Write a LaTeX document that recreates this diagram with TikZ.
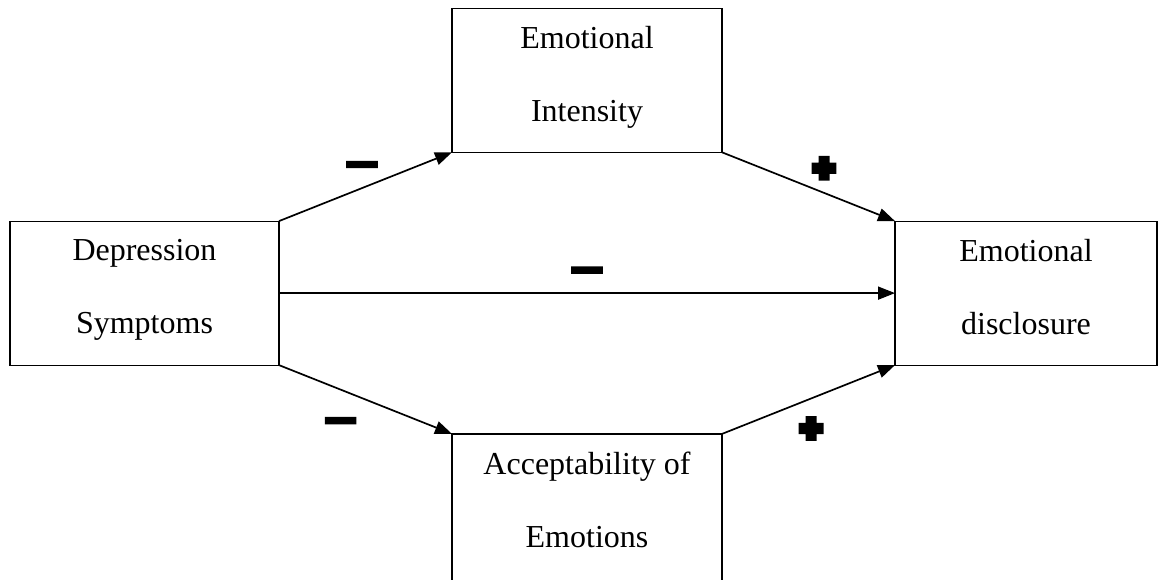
\documentclass[tikz,border=0pt]{standalone}
\usepackage{fontspec}
\setmainfont{Liberation Serif}
\newfontface\negface[FakeBold=4.2]{DejaVu Sans Bold}
\newfontface\posface[FakeBold=24]{DejaVu Sans}
\usetikzlibrary{matrix,arrows.meta}
\tikzset{
    factor/.style={outer sep=0pt, inner sep=2pt, minimum width=135pt, minimum height=72pt, text depth=6.5pt, draw, line width=0.6pt, rectangle, align=center, font=\fontsize{16}{36.5}\selectfont},
    effect/.style={draw, line width=0.85pt, -{Triangle[length=8.5pt,width=6.5pt]}},
    sign/.style={inner sep=0pt, outer sep=0pt}
}
\def\Neg{{\negface\fontsize{23.7}{24}\selectfont −}}
\def\Pos{{\posface\fontsize{12.8}{13}\selectfont ✚}}
\def\PathModel{
    \matrix (model)
    [matrix anchor=north west,
    inner sep=0pt, outer sep=0pt,
    ampersand replacement=\&,
    column sep={85.9pt},
    row sep={33.8pt}]
    at (4.7pt,-3.85pt)
    {
     \& \node[factor] (intensity) {Emotional\\Intensity}; \\
     \node[factor, minimum width=134.5pt] (depression) {Depression\\Symptoms}; \& \& \node[factor, minimum width=131pt] (disclosure) {Emotional\\disclosure}; \\
     \& \node[factor, minimum height=88pt, text depth=22.5pt] (acceptability) {Acceptability of\\Emotions}; \\
    };
}

\begin{document}
\begin{tikzpicture}
    \useasboundingbox (0,0) rectangle (582.5pt,-289.5pt);
    \PathModel
    \draw[effect] (depression.north east) -- node[sign, pos=0.48, yshift=8.75pt] (neg1) {\Neg} (intensity.south west);
    \draw[effect] (intensity.south east) -- node[sign, pos=0.59, yshift=12.35pt] (pos1) {\Pos} (disclosure.north west);
    \draw[effect] (depression.east) -- node[sign, pos=0.5, yshift=8.5pt] (neg2) {\Neg} (disclosure.west);
    \draw[effect] (depression.south east) -- node[sign, pos=0.356, yshift=-18.5pt] (neg3) {\Neg} (acceptability.north west);
    \draw[effect] (acceptability.north east) -- node[sign, pos=0.515, yshift=-15pt] (pos2) {\Pos} (disclosure.south west);
\end{tikzpicture}
\end{document}
